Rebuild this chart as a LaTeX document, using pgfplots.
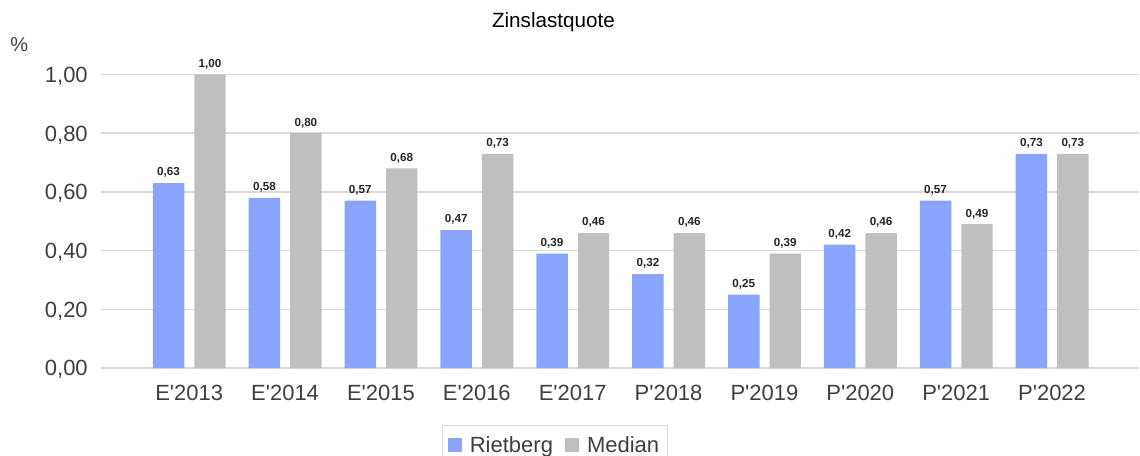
\documentclass[border=0pt]{standalone}
\usepackage{pgfplots}
\pgfplotsset{compat=1.18}
\usepackage{fontspec}
\setmainfont{Liberation Sans}
\definecolor{rblue}{HTML}{89A5FB}
\definecolor{mgray}{HTML}{BFBFBF}
\definecolor{gridc}{HTML}{D9D9D9}
\definecolor{tickc}{HTML}{3F3F3F}
\begin{document}
\begin{tikzpicture}
\useasboundingbox (0pt,0pt) rectangle (855pt,-342pt);
\node[anchor=base, font=\fontsize{15.5}{18}\selectfont] at (415.1pt,-21pt) {Zinslastquote};
\node[anchor=base west, font=\fontsize{15}{18}\selectfont, text=tickc, inner sep=0pt] at (7.5pt,-39pt) {\%};
\begin{axis}[
  at={(75.75pt,-276pt)}, anchor=south west,
  scale only axis, width=778.5pt, height=220.1pt,
  xmin=-0.92, xmax=9.907, ymin=0, ymax=1.0,
  clip=false,
  axis line style={draw=none},
  major tick length=0pt,
  ymajorgrids, grid style={color=gridc, line width=1.1pt},
  ytick={0,0.2,0.4,0.6,0.8,1.0},
  yticklabel style={font=\fontsize{16.5}{19}\selectfont, text=tickc, anchor=base east, inner sep=0pt, xshift=-9.75pt, yshift=-5.9pt,
    /pgf/number format/fixed, /pgf/number format/fixed zerofill, /pgf/number format/precision=2, /pgf/number format/use comma, /pgf/number format/assume math mode=true},
  xtick={0,...,9},
  xticklabels={E\textquotesingle 2013,E\textquotesingle 2014,E\textquotesingle 2015,E\textquotesingle 2016,E\textquotesingle 2017,P\textquotesingle 2018,P\textquotesingle 2019,P\textquotesingle 2020,P\textquotesingle 2021,P\textquotesingle 2022},
  xticklabel style={font=\fontsize{16.5}{19}\selectfont, text=tickc, anchor=base, inner sep=0pt, yshift=-24pt},
  nodes near coords,
  every node near coord/.append style={font=\fontsize{8.75}{10}\selectfont\bfseries, text=black!85, anchor=base, inner sep=0pt, yshift=5.4pt,
    /pgf/number format/fixed, /pgf/number format/fixed zerofill, /pgf/number format/precision=2, /pgf/number format/use comma, /pgf/number format/assume math mode=true},
  legend columns=2,
  legend style={at={(0.3285,-0.194)}, anchor=north west, draw=gridc, line width=0.8pt,
    font=\fontsize{16.5}{19}\selectfont, text=tickc, inner xsep=4pt, inner ysep=6pt,
    /tikz/every odd column/.append style={column sep=4pt},
    /tikz/every even column/.append style={column sep=7pt}},
  legend cell align=left,
]
\addplot[ybar, bar width=23.6pt, bar shift=-15.5pt, fill=rblue, draw=none,
  every node near coord/.append style={/tikz/xshift=-15.5pt},
  legend image code/.code={\fill[rblue] (0pt,-5.25pt) rectangle (10.5pt,5.25pt);}]
  coordinates {(0,0.63) (1,0.58) (2,0.57) (3,0.47) (4,0.39) (5,0.32) (6,0.25) (7,0.42) (8,0.57) (9,0.73)};
\addplot[ybar, bar width=23.6pt, bar shift=15.6pt, fill=mgray, draw=none,
  every node near coord/.append style={/tikz/xshift=15.6pt},
  legend image code/.code={\fill[mgray] (0pt,-5.25pt) rectangle (10.5pt,5.25pt);}]
  coordinates {(0,1.00) (1,0.80) (2,0.68) (3,0.73) (4,0.46) (5,0.46) (6,0.39) (7,0.46) (8,0.49) (9,0.73)};
\legend{Rietberg,Median}
\end{axis}
\end{tikzpicture}
\end{document}
